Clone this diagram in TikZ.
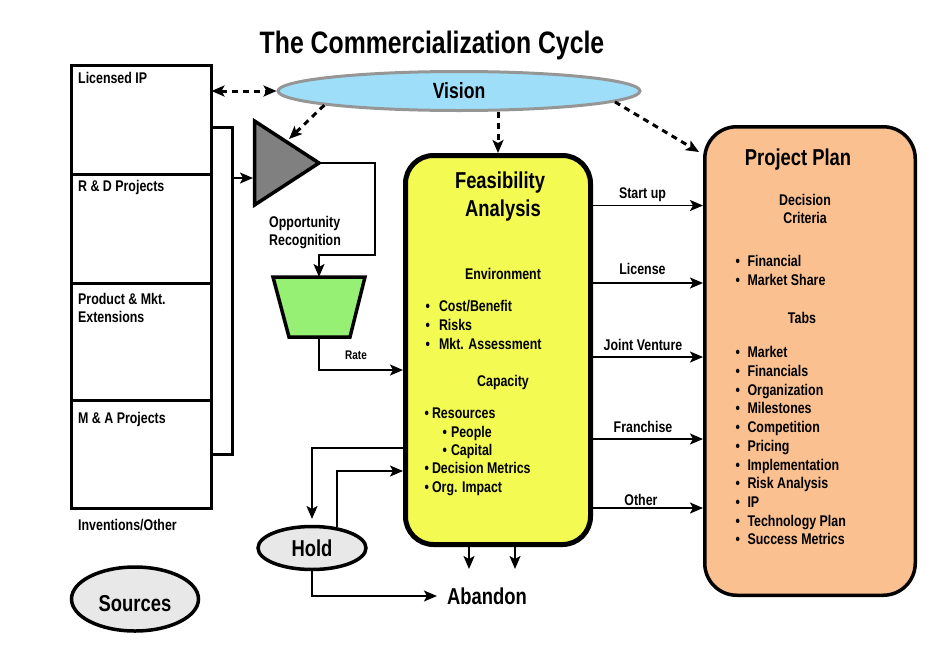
\documentclass[tikz,border=0pt]{standalone}
\usepackage{fontspec}
\setmainfont{Liberation Sans}[FakeStretch=0.8]
\usetikzlibrary{arrows.meta,shapes.geometric}
\definecolor{feasC}{RGB}{243,250,82}
\definecolor{planC}{RGB}{250,192,144}
\definecolor{visC}{RGB}{158,222,248}
\definecolor{visL}{RGB}{150,150,150}
\definecolor{trapC}{RGB}{150,240,115}
\definecolor{triC}{RGB}{128,128,128}
\definecolor{ovalC}{RGB}{232,232,232}
\newcommand\myfs[1]{\fontsize{#1}{#1}\selectfont}
\newcommand\bul[1]{\textbullet\hspace{#1}}
\begin{document}
\begin{tikzpicture}[x=1pt,y=-1pt,font=\bfseries\myfs{15.5},
  txt/.style={inner sep=0pt,anchor=base},
  txtl/.style={inner sep=0pt,anchor=base west},
  big/.style={font=\bfseries\myfs{23}},
  stack/.style={draw,line width=3pt,fill=white,anchor=north west,minimum width=140,inner sep=0pt,outer sep=0pt},
  oval/.style={ellipse,draw,line width=3.5pt,fill=ovalC,inner sep=0pt,font=\bfseries\myfs{23}},
  tipS/.tip={Stealth[length=13pt,width=11pt,inset=3pt]},
  arr/.style={line width=1.8pt,-tipS},
  dsh/.style={line width=3pt,dash pattern=on 6pt off 5pt,-tipS},
]
\useasboundingbox (0,0) rectangle (945,662);

% title
\node[txt,font=\bfseries\myfs{31}] (title) at (432,53) {The Commercialization Cycle};

% source stack
\draw[line width=3pt] (211,127) -| (232,454) -- (211,454);
\node[stack,minimum height=108.5] (lip) at (71.5,65.5) {};
\node[stack,minimum height=109.5] (rd) at (71.5,174) {};
\node[stack,minimum height=117] (pm) at (71.5,283.5) {};
\node[stack,minimum height=108] (ma) at (71.5,400.5) {};
\node[txtl] (lipt) at (78,83) {Licensed IP};
\node[txtl] (rdt) at (78,191.5) {R \& D Projects};
\node[txtl] (pmt1) at (78,304) {Product \& Mkt.};
\node[txtl] (pmt2) at (78,322) {Extensions};
\node[txtl] (mat) at (78,423) {M \& A Projects};
\node[txtl] (inv) at (78,530.5) {Inventions/Other};

\node[oval,minimum width=127,minimum height=64] (src) at (135,599) {};
\node[txt,big] (srct) at (135,611) {Sources};
\node[oval,minimum width=108,minimum height=43] (hold) at (312,548) {Hold};

% vision
\node[ellipse,draw=visL,line width=3pt,fill=visC,minimum width=362,minimum height=39,inner sep=0pt,font=\bfseries\myfs{22}] (vis) at (459,91) {Vision};

% triangle
\coordinate (tA) at (254.5,121);
\coordinate (tB) at (254.5,205);
\coordinate (tC) at (319,163);
\draw[line width=3.5pt,fill=triC,line join=miter] (tA) -- (tC) -- (tB) -- cycle;
\node[txtl] (opp1) at (269,227.5) {Opportunity};
\node[txtl] (opp2) at (269,245.5) {Recognition};

% trapezoid
\coordinate (zA) at (273,277);
\coordinate (zB) at (365,277);
\coordinate (zC) at (350,337);
\coordinate (zD) at (289,337);
\draw[line width=3.5pt,fill=trapC,line join=miter] (zA) -- (zB) -- (zC) -- (zD) -- cycle;
\coordinate (zN) at (319,277);
\coordinate (zS) at (319,337);

% feasibility
\node[draw,line width=5pt,fill=feasC,rounded corners=28pt,minimum width=185,minimum height=389,inner sep=0pt] (fa) at (498,350) {};
\node[txt,big] (fat1) at (500,188.5) {Feasibility};
\node[txt,big] (fat2) at (503,216.5) {Analysis};
\node[txt] (env) at (503,279.5) {Environment};
\node[txtl] (e1) at (425.5,311) {\bul{9pt}Cost/Benefit};
\node[txtl] (e2) at (425.5,330) {\bul{9pt}Risks};
\node[txtl] (e3) at (425.5,349) {\bul{9pt}Mkt. Assessment};
\node[txt] (cap) at (503,386.5) {Capacity};
\node[txtl] (c1) at (424.5,418.5) {\bul{3pt}Resources};
\node[txtl] (c2) at (442.5,437.5) {\bul{4pt}People};
\node[txtl] (c3) at (442.5,455.5) {\bul{4pt}Capital};
\node[txtl] (c4) at (424.5,473.5) {\bul{3pt}Decision Metrics};
\node[txtl] (c5) at (424.5,492.5) {\bul{3pt}Org. Impact};

% project plan
\node[draw,line width=3.5pt,fill=planC,rounded corners=32pt,minimum width=210.5,minimum height=468.5,inner sep=0pt] (pp) at (810,361) {};
\node[txt,big] (ppt) at (798,165) {Project Plan};
\node[txt] (dc1) at (805,205.5) {Decision};
\node[txt] (dc2) at (805,223.5) {Criteria};
\node[txtl] (f1) at (735.5,266.8) {\bul{7.5pt}Financial};
\node[txtl] (f2) at (735.5,285.8) {\bul{7.5pt}Market Share};
\node[txt] (tabs) at (802,323.5) {Tabs};
\foreach \t [count=\i from 0] in {Market,Financials,Organization,Milestones,Competition,Pricing,Implementation,Risk Analysis,IP,Technology Plan,Success Metrics}
  \node[txtl] (tab\i) at (735.5,357.8+18.7*\i) {\bul{7.5pt}\t};

% abandon
\node[big,inner ysep=3pt,inner xsep=10pt] (ab) at (487,596) {Abandon};

% connectors: source side
\coordinate (brk) at (232,178);
\coordinate (trin) at (253,178);
\draw[arr] (brk) -- (trin);
\coordinate (bend1) at (375,255);
\draw[arr] (tC) -| (bend1) -| (zN);
\coordinate (yRate) at (0,370);
\draw[arr] (zS) |- (fa.west |- yRate);
\node[txt,font=\bfseries\myfs{12.5}] (rate) at (356,359.5) {Rate};

% vision dashed arrows
\draw[dsh,tipS-tipS] (lip.east |- vis.west) -- (vis.west);
\coordinate (triv) at (289,139);
\draw[dsh] (vis.186) -- (triv);
\draw[dsh] (fa.north |- vis.south) -- (fa.north);
\coordinate (ppd) at (699,152);
\draw[dsh] (vis.-4) -- (ppd);

% feasibility -> project plan
\coordinate (ySU) at (0,205.5);
\coordinate (yLI) at (0,283);
\coordinate (yJV) at (0,357);
\coordinate (yFR) at (0,439);
\coordinate (yOT) at (0,508);
\draw[arr] (fa.east |- ySU) -- (pp.west |- ySU);
\draw[arr] (fa.east |- yLI) -- (pp.west |- yLI);
\draw[arr] (fa.east |- yJV) -- (pp.west |- yJV);
\draw[arr] (fa.east |- yFR) -- (pp.west |- yFR);
\draw[arr] (fa.east |- yOT) -- (pp.west |- yOT);
\node[txt] (lsu) at (642.5,198.5) {Start up};
\node[txt] (lli) at (642.5,274.5) {License};
\node[txt] (ljv) at (643,350.5) {Joint Venture};
\node[txt] (lfr) at (643,432.5) {Franchise};
\node[txt] (lot) at (641,505.5) {Other};

% hold loop
\coordinate (yH1) at (0,448);
\coordinate (yH2) at (0,471);
\coordinate (hin) at (312,519);
\draw[arr] (fa.west |- yH1) -| (hin);
\draw[arr] (hold.40) |- (fa.west |- yH2);
\draw[arr] (hold.south) |- (ab.west);

% feasibility -> abandon
\coordinate (ab1) at (469,569);
\coordinate (ab2) at (515,569);
\draw[arr] (fa.south -| ab1) -- (ab1);
\draw[arr] (fa.south -| ab2) -- (ab2);
\end{tikzpicture}
\end{document}
